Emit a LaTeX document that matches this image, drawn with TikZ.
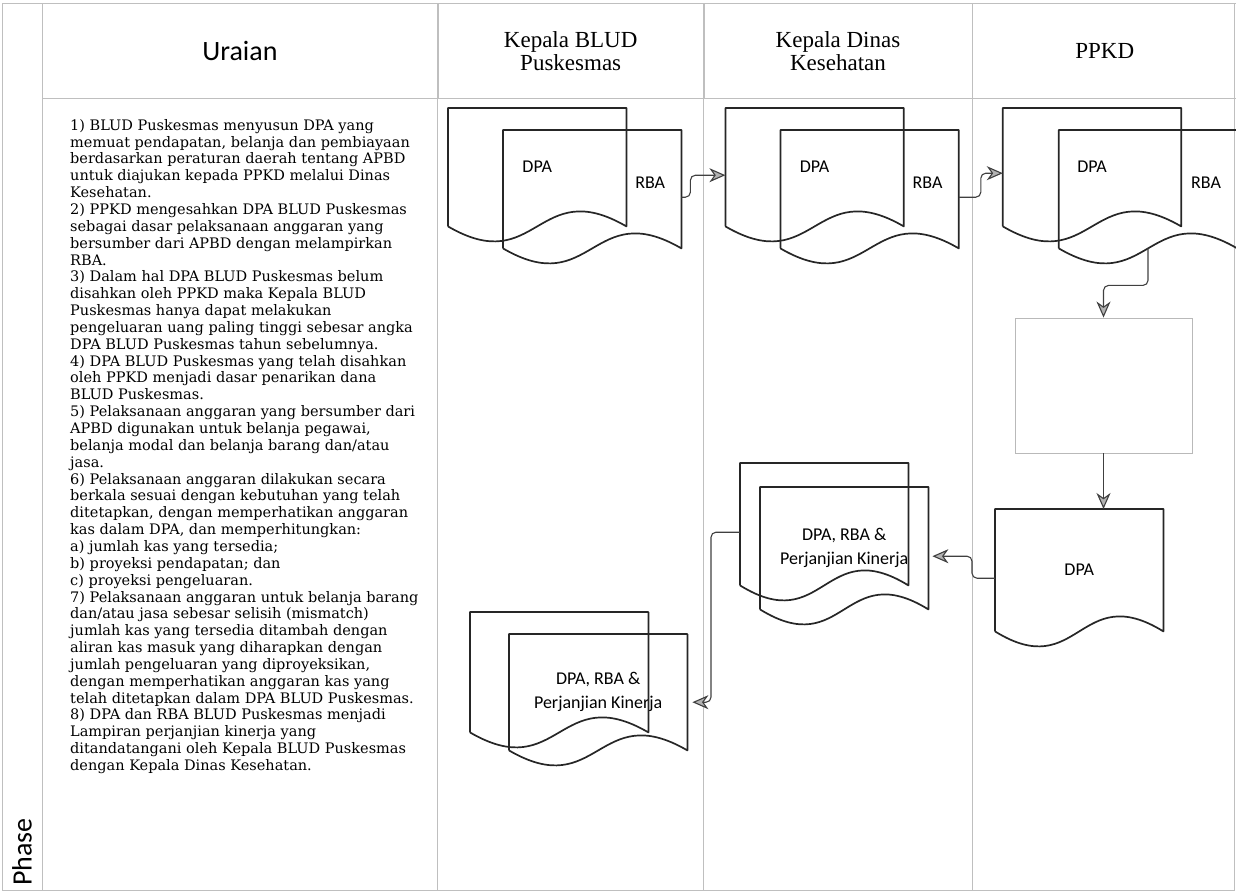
\documentclass[tikz,border=0pt]{standalone}
\usepackage{fontspec}
\newfontfamily\uifont{Carlito}
\newfontfamily\notefont{DejaVu Serif}
\newfontfamily\headfont{Liberation Serif}
\usetikzlibrary{arrows.meta,positioning}
\tikzstyle{lane}=[draw=gray!50,line width=0.8pt]
\tikzstyle{lanehead}=[rectangle,draw=gray!50,line width=0.8pt,minimum height=95pt,inner sep=0pt,align=center,anchor=north west,font=\headfont\fontsize{23}{23}\selectfont]
\tikzstyle{docbox}=[rectangle,inner sep=0pt,minimum width=178pt,minimum height=118pt,anchor=north west,align=center,font=\uifont\fontsize{18}{24}\selectfont]
\tikzstyle{docline}=[draw=black!85,line width=1.7pt,line join=round]
\tikzstyle{doclabel}=[font=\uifont\fontsize{18}{24}\selectfont]
\tikzstyle{arr}=[-{Stealth[length=16pt,width=14pt,inset=5pt,fill=gray!60]},draw=black!75,line width=1.1pt,rounded corners=5pt]

% outline of a document page with wavy bottom, drawn on a docbox node
\newcommand{\docoutline}[1]{%
  \draw[docline] (#1.south west) -- (#1.north west) -- (#1.north east) -- (#1.south east)
    .. controls ([yshift=52pt]#1.south) and ([yshift=-52pt]#1.south) .. (#1.south west);}

\begin{document}
\begin{tikzpicture}[x=1pt,y=-1pt]
\useasboundingbox (0,0) rectangle (1236,892);
\coordinate (bottom) at (0,890);

% swimlanes
\draw[lane] (2,3) rectangle (1234,890);
\node[lanehead,minimum width=395pt,font=\uifont\fontsize{28}{30}\selectfont] (hUraian) at (42,3) {Uraian};
\node[lanehead,minimum width=265pt,right=0pt of hUraian] (hBlud) {Kepala BLUD\\Puskesmas};
\node[lanehead,minimum width=268pt,right=0pt of hBlud] (hDinas) {Kepala Dinas\\Kesehatan};
\node[lanehead,minimum width=264pt,right=0pt of hDinas] (hPpkd) {PPKD};
\draw[lane] (hUraian.south west) -- (hUraian.south west |- bottom);
\draw[lane] (hBlud.south west) -- (hBlud.south west |- bottom);
\draw[lane] (hDinas.south west) -- (hDinas.south west |- bottom);
\draw[lane] (hPpkd.south west) -- (hPpkd.south west |- bottom);
\node[rotate=90,font=\uifont\fontsize{28}{30}\selectfont] (phase) at (22,852) {Phase};

% uraian
\node[anchor=north west,align=left,inner sep=0pt,font=\notefont\fontsize{14.5}{16.85}\selectfont] (uraianText) at (70,119) {%
1) BLUD Puskesmas menyusun DPA yang\\
memuat pendapatan, belanja dan pembiayaan\\
berdasarkan peraturan daerah tentang APBD\\
untuk diajukan kepada PPKD melalui Dinas\\
Kesehatan.\\
2) PPKD mengesahkan DPA BLUD Puskesmas\\
sebagai dasar pelaksanaan anggaran yang\\
bersumber dari APBD dengan melampirkan\\
RBA.\\
3) Dalam hal DPA BLUD Puskesmas belum\\
disahkan oleh PPKD maka Kepala BLUD\\
Puskesmas hanya dapat melakukan\\
pengeluaran uang paling tinggi sebesar angka\\
DPA BLUD Puskesmas tahun sebelumnya.\\
4) DPA BLUD Puskesmas yang telah disahkan\\
oleh PPKD menjadi dasar penarikan dana\\
BLUD Puskesmas.\\
5) Pelaksanaan anggaran yang bersumber dari\\
APBD digunakan untuk belanja pegawai,\\
belanja modal dan belanja barang dan/atau\\
jasa.\\
6) Pelaksanaan anggaran dilakukan secara\\
berkala sesuai dengan kebutuhan yang telah\\
ditetapkan, dengan memperhatikan anggaran\\
kas dalam DPA, dan memperhitungkan:\\
a) jumlah kas yang tersedia;\\
b) proyeksi pendapatan; dan\\
c) proyeksi pengeluaran.\\
7) Pelaksanaan anggaran untuk belanja barang\\
dan/atau jasa sebesar selisih (mismatch)\\
jumlah kas yang tersedia ditambah dengan\\
aliran kas masuk yang diharapkan dengan\\
jumlah pengeluaran yang diproyeksikan,\\
dengan memperhatikan anggaran kas yang\\
telah ditetapkan dalam DPA BLUD Puskesmas.\\
8) DPA dan RBA BLUD Puskesmas menjadi\\
Lampiran perjanjian kinerja yang\\
ditandatangani oleh Kepala BLUD Puskesmas\\
dengan Kepala Dinas Kesehatan.};

% DPA + RBA pairs
\node[docbox] (bludA) at (448,108) {DPA};
\node[docbox,below right=22pt and 55pt of bludA.north west] (bludB) {};
\node[docbox,right=99pt of bludA] (dinasA) {DPA};
\node[docbox,below right=22pt and 55pt of dinasA.north west] (dinasB) {};
\node[docbox,right=99pt of dinasA] (ppkdA) {DPA};
\node[docbox,below right=22pt and 56pt of ppkdA.north west] (ppkdB) {};
\node[doclabel] (rbaBlud) at ([xshift=58pt,yshift=6pt]bludB.center) {RBA};
\node[doclabel] (rbaDinas) at ([xshift=58pt,yshift=6pt]dinasB.center) {RBA};
\node[doclabel] (rbaPpkd) at ([xshift=58pt,yshift=6pt]ppkdB.center) {RBA};

% PPKD
\node[rectangle,draw=gray!55,line width=0.9pt,minimum width=177pt,minimum height=135pt] (kas) at (1103.5,385.5) {};
\node[docbox,minimum width=168pt,minimum height=122pt] (ppkdC) at (995,509) {DPA};

% DPA, RBA & Perjanjian Kinerja
\node[docbox,minimum width=168pt,minimum height=122pt] (dinasC) at (740,463) {};
\node[docbox,minimum width=168pt,minimum height=122pt,below right=24pt and 20pt of dinasC.north west] (dinasD) {DPA, RBA \&\\Perjanjian Kinerja};
\node[docbox,minimum height=120pt] (bludC) at (470,612) {};
\node[docbox,minimum height=116pt,below right=22pt and 39pt of bludC.north west] (bludD) {DPA, RBA \&\\Perjanjian Kinerja};

\docoutline{bludA}
\docoutline{bludB}
\docoutline{dinasA}
\docoutline{dinasB}
\docoutline{ppkdA}
\docoutline{ppkdB}
\docoutline{ppkdC}
\docoutline{dinasC}
\docoutline{dinasD}
\docoutline{bludC}
\docoutline{bludD}

\draw[arr] ([yshift=-8pt]bludB.east) -- ++(9,0) |- ([yshift=-8pt]dinasA.west);
\draw[arr] ([yshift=-8pt]dinasB.east) -- ++(22,0) |- ([yshift=-6pt]ppkdA.west);
\draw[arr] (ppkdB.south) -- ++(0,37) -| (kas.north);
\draw[arr] (kas.south) -- (kas.south |- ppkdC.north);
\draw[arr] ([yshift=-8pt]ppkdC.west) -- ++(-23,0) |- ([xshift=4pt,yshift=-8pt]dinasD.east);
\draw[arr] ([yshift=-8pt]dinasC.west) -- ++(-29,0) |- ([xshift=5pt,yshift=-10pt]bludD.east);
\end{tikzpicture}
\end{document}
